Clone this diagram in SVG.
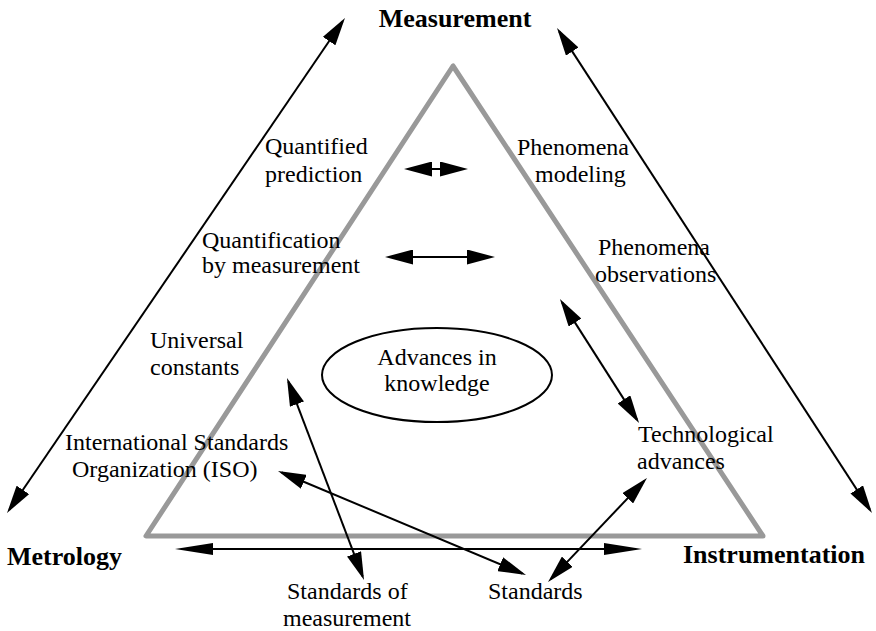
<svg xmlns="http://www.w3.org/2000/svg" width="876" height="631" viewBox="0 0 876 631">
  <style>
    .lbl { font-family: "Liberation Serif", "Times New Roman", serif; font-size: 24px; fill: #000; }
    .ttl { font-family: "Liberation Serif", "Times New Roman", serif; font-size: 26px; font-weight: bold; fill: #000; }
    .wire { stroke: #000; stroke-width: 2; fill: none; }
    .arr { marker-start: url(#head); marker-end: url(#head); }
    .arrLong { marker-start: url(#headLong); marker-end: url(#headLong); }
  </style>
  <defs>
    <marker id="head" markerUnits="userSpaceOnUse" markerWidth="28" markerHeight="15" viewBox="0 0 28 15" refX="24" refY="7.5" orient="auto-start-reverse">
      <path d="M0,0 L28,7.5 L0,15 z" fill="#000"/>
    </marker>
    <marker id="headLong" markerUnits="userSpaceOnUse" markerWidth="38" markerHeight="12" viewBox="0 0 38 12" refX="32" refY="6" orient="auto-start-reverse">
      <path d="M0,0 L38,6 L0,12 z" fill="#000"/>
    </marker>
  </defs>
  <rect width="876" height="631" fill="#fff"/>

  <!-- central triangle -->
  <g id="triangle">
    <polygon points="453,66 146,536 763,536" fill="none" stroke="#999" stroke-width="5" stroke-linejoin="round"/>
  </g>

  <!-- connectors -->
  <g id="connectors">
    <line class="wire arr" x1="342.7" y1="21.3" x2="9.3" y2="509.7"/>
    <line class="wire arr" x1="559.2" y1="31.4" x2="869.8" y2="509.6"/>
    <line class="wire arrLong" x1="181" y1="549" x2="636" y2="549"/>
    <line class="wire arr" x1="408" y1="169" x2="464" y2="169"/>
    <line class="wire arr" x1="389" y1="257" x2="491" y2="257"/>
    <line class="wire arr" x1="562.1" y1="302.4" x2="636.9" y2="419.6"/>
    <line class="wire arr" x1="550.8" y1="579.1" x2="644.2" y2="480.9"/>
    <line class="wire arr" x1="281.7" y1="472.5" x2="522.3" y2="573.5"/>
    <line class="wire arr" x1="288.4" y1="381.7" x2="362.6" y2="576.3"/>
  </g>

  <!-- corner titles -->
  <g id="measurement"><text class="ttl" x="455" y="27" text-anchor="middle">Measurement</text></g>
  <g id="metrology"><text class="ttl" x="7" y="565">Metrology</text></g>
  <g id="instrumentation"><text class="ttl" x="683" y="563">Instrumentation</text></g>

  <!-- labels -->
  <g id="quantified-prediction">
    <text class="lbl" x="265" y="154">Quantified</text>
    <text class="lbl" x="265" y="182">prediction</text>
  </g>
  <g id="phenomena-modeling">
    <text class="lbl" x="517" y="155">Phenomena</text>
    <text class="lbl" x="535" y="182">modeling</text>
  </g>
  <g id="quantification">
    <text class="lbl" x="202" y="248">Quantification</text>
    <text class="lbl" x="202" y="273">by measurement</text>
  </g>
  <g id="phenomena-observations">
    <text class="lbl" x="598" y="255">Phenomena</text>
    <text class="lbl" x="595" y="282">observations</text>
  </g>
  <g id="universal-constants">
    <text class="lbl" x="150" y="348">Universal</text>
    <text class="lbl" x="150" y="375">constants</text>
  </g>
  <g id="advances-in-knowledge">
    <ellipse cx="437" cy="375" rx="115" ry="47" fill="none" stroke="#000" stroke-width="2"/>
    <text class="lbl" x="437" y="365" text-anchor="middle">Advances in</text>
    <text class="lbl" x="437" y="391" text-anchor="middle">knowledge</text>
  </g>
  <g id="iso">
    <text class="lbl" x="65" y="450">International Standards</text>
    <text class="lbl" x="72" y="477">Organization (ISO)</text>
  </g>
  <g id="technological-advances">
    <text class="lbl" x="638" y="442">Technological</text>
    <text class="lbl" x="637" y="469">advances</text>
  </g>
  <g id="standards-of-measurement">
    <text class="lbl" x="287" y="599">Standards of</text>
    <text class="lbl" x="283" y="626">measurement</text>
  </g>
  <g id="standards">
    <text class="lbl" x="488" y="599">Standards</text>
  </g>
</svg>
